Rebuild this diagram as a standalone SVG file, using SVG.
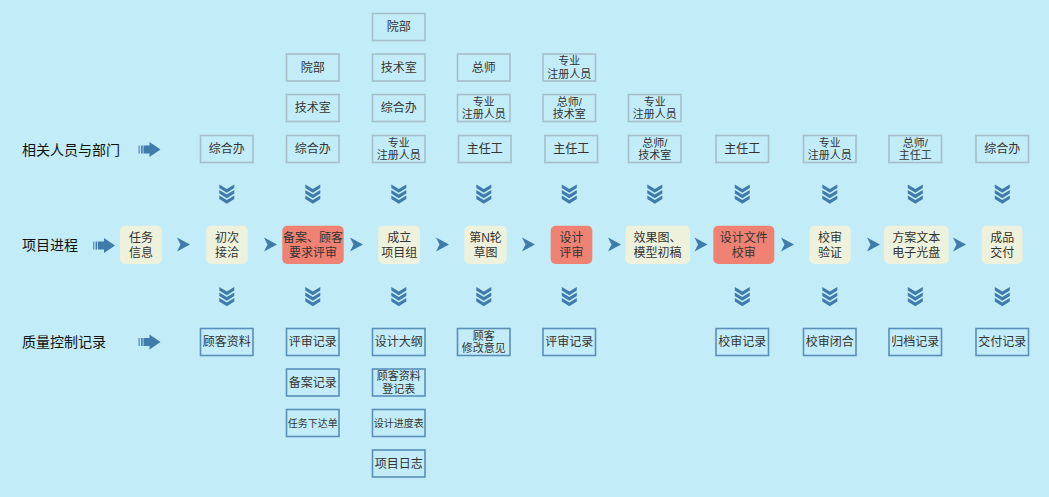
<svg xmlns="http://www.w3.org/2000/svg" width="1049" height="497" viewBox="0 0 1049 497">
<style>
text{font-family:"Liberation Sans","Noto Sans CJK SC",sans-serif;dominant-baseline:central;text-anchor:middle;fill:#333}
.lbl{font-size:14px;fill:#111;text-anchor:start}
.tb{fill:none;stroke:#a5bfca;stroke-width:1.6}
.bb{fill:none;stroke:#5a8fb8;stroke-width:1.6}
.pb{fill:#eef2dc}
.pr{fill:#ef8272}
.t12{font-size:12px}
.t11{font-size:11px}
.t10{font-size:10px}
.ar{fill:#3f7bab}
</style>
<defs>
<path id="chev" class="ar" d="M-7.5,0 L0,4.5 L7.5,0 L7.5,3.6 L0,8.2 L-7.5,3.6 Z M-7.5,5.5 L0,10 L7.5,5.5 L7.5,9.1 L0,13.7 L-7.5,9.1 Z M-7.5,11 L0,15.5 L7.5,11 L7.5,14.6 L0,19.2 L-7.5,14.6 Z"/>
<g id="fat" class="ar"><rect x="0" y="-4" width="1.4" height="8" opacity="0.75"/><rect x="2.6" y="-4" width="1.6" height="8"/><rect x="5" y="-4" width="6.5" height="8"/><polygon points="11,-7.5 22,0 11,7.5"/></g>
<polygon id="pa" class="ar" points="0,-7 13,0 0,7 3.5,0"/>
</defs>
<rect width="1049" height="497" fill="#c2ecf8"/>

<g id="labels">
<text class="lbl" x="22" y="150">相关人员与部门</text>
<text class="lbl" x="22" y="245">项目进程</text>
<text class="lbl" x="22" y="342">质量控制记录</text>
</g>

<g id="connectors">
<use href="#fat" x="138.5" y="149.5"/>
<use href="#fat" x="93" y="245.5"/>
<use href="#fat" x="138.5" y="342"/>
<use href="#pa" x="177" y="244.5"/>
<use href="#pa" x="264" y="244.5"/>
<use href="#pa" x="350" y="244.5"/>
<use href="#pa" x="436" y="244.5"/>
<use href="#pa" x="522" y="244.5"/>
<use href="#pa" x="608" y="244.5"/>
<use href="#pa" x="694.5" y="244.5"/>
<use href="#pa" x="781" y="244.5"/>
<use href="#pa" x="867" y="244.5"/>
<use href="#pa" x="953" y="244.5"/>
<use href="#chev" x="226.8" y="184.5"/>
<use href="#chev" x="312.8" y="184.5"/>
<use href="#chev" x="398.8" y="184.5"/>
<use href="#chev" x="483.8" y="184.5"/>
<use href="#chev" x="569.3" y="184.5"/>
<use href="#chev" x="654.8" y="184.5"/>
<use href="#chev" x="742.3" y="184.5"/>
<use href="#chev" x="829.8" y="184.5"/>
<use href="#chev" x="915.3" y="184.5"/>
<use href="#chev" x="1002.3" y="184.5"/>
<use href="#chev" x="226.8" y="287"/>
<use href="#chev" x="312.8" y="287"/>
<use href="#chev" x="398.8" y="287"/>
<use href="#chev" x="483.8" y="287"/>
<use href="#chev" x="569.3" y="287"/>
<use href="#chev" x="742.3" y="287"/>
<use href="#chev" x="829.8" y="287"/>
<use href="#chev" x="915.3" y="287"/>
<use href="#chev" x="1002.3" y="287"/>
</g>

<!-- people / departments -->
<g id="p2"><rect class="tb" x="200.5" y="135.5" width="52.5" height="27"/><text class="t12" x="226.8" y="149">综合办</text></g>
<g id="p3a"><rect class="tb" x="286.5" y="54" width="52.5" height="27"/><text class="t12" x="312.8" y="67.5">院部</text></g>
<g id="p3b"><rect class="tb" x="286.5" y="94.5" width="52.5" height="27"/><text class="t12" x="312.8" y="108">技术室</text></g>
<g id="p3c"><rect class="tb" x="286.5" y="135.5" width="52.5" height="27"/><text class="t12" x="312.8" y="149">综合办</text></g>
<g id="p4a"><rect class="tb" x="372.5" y="13.5" width="52.5" height="27"/><text class="t12" x="398.8" y="27">院部</text></g>
<g id="p4b"><rect class="tb" x="372.5" y="54" width="52.5" height="27"/><text class="t12" x="398.8" y="67.5">技术室</text></g>
<g id="p4c"><rect class="tb" x="372.5" y="94.5" width="52.5" height="27"/><text class="t12" x="398.8" y="108">综合办</text></g>
<g id="p4d"><rect class="tb" x="372.5" y="135.5" width="52.5" height="27"/><text class="t11" x="398.8" y="142.8">专业<tspan x="398.8" dy="12.5">注册人员</tspan></text></g>
<g id="p5a"><rect class="tb" x="457.5" y="54" width="52.5" height="27"/><text class="t12" x="483.8" y="67.5">总师</text></g>
<g id="p5b"><rect class="tb" x="457.5" y="94.5" width="52.5" height="27"/><text class="t11" x="483.8" y="101.8">专业<tspan x="483.8" dy="12.5">注册人员</tspan></text></g>
<g id="p5c"><rect class="tb" x="458.5" y="135.5" width="52.5" height="27"/><text class="t12" x="484.8" y="149">主任工</text></g>
<g id="p6a"><rect class="tb" x="543" y="54" width="52.5" height="27"/><text class="t11" x="569.3" y="61.3">专业<tspan x="569.3" dy="12.5">注册人员</tspan></text></g>
<g id="p6b"><rect class="tb" x="543" y="94.5" width="52.5" height="27"/><text class="t11" x="569.3" y="101.8">总师/<tspan x="569.3" dy="12.5">技术室</tspan></text></g>
<g id="p6c"><rect class="tb" x="545" y="135.5" width="52.5" height="27"/><text class="t12" x="571.3" y="149">主任工</text></g>
<g id="p7a"><rect class="tb" x="628.5" y="94.5" width="52.5" height="27"/><text class="t11" x="654.8" y="101.8">专业<tspan x="654.8" dy="12.5">注册人员</tspan></text></g>
<g id="p7b"><rect class="tb" x="628.5" y="135.5" width="52.5" height="27"/><text class="t11" x="654.8" y="142.8">总师/<tspan x="654.8" dy="12.5">技术室</tspan></text></g>
<g id="p8"><rect class="tb" x="716" y="135.5" width="52.5" height="27"/><text class="t12" x="742.3" y="149">主任工</text></g>
<g id="p9"><rect class="tb" x="803.5" y="135.5" width="52.5" height="27"/><text class="t11" x="829.8" y="142.8">专业<tspan x="829.8" dy="12.5">注册人员</tspan></text></g>
<g id="p10"><rect class="tb" x="889" y="135.5" width="52.5" height="27"/><text class="t11" x="915.3" y="142.8">总师/<tspan x="915.3" dy="12.5">主任工</tspan></text></g>
<g id="p11"><rect class="tb" x="976" y="135.5" width="52.5" height="27"/><text class="t12" x="1002.3" y="149">综合办</text></g>

<!-- process -->
<g id="s1"><rect class="pb" x="120" y="225.7" width="41.7" height="38.3" rx="5"/><text class="t12" x="140.9" y="238">任务<tspan x="140.9" dy="14.5">信息</tspan></text></g>
<g id="s2"><rect class="pb" x="206.3" y="225.7" width="41.4" height="38.3" rx="5"/><text class="t12" x="227" y="238">初次<tspan x="227" dy="14.5">接洽</tspan></text></g>
<g id="s3"><rect class="pr" x="282.3" y="225.7" width="61.4" height="38.3" rx="5"/><text class="t12" x="313" y="238">备案、顾客<tspan x="313" dy="14.5">要求评审</tspan></text></g>
<g id="s4"><rect class="pb" x="378.3" y="225.7" width="41.7" height="38.3" rx="5"/><text class="t12" x="399.2" y="238">成立<tspan x="399.2" dy="14.5">项目组</tspan></text></g>
<g id="s5"><rect class="pb" x="464.3" y="225.7" width="42.4" height="38.3" rx="5"/><text class="t12" x="485.5" y="238">第N轮<tspan x="485.5" dy="14.5">草图</tspan></text></g>
<g id="s6"><rect class="pr" x="550.7" y="225.7" width="41.6" height="38.3" rx="5"/><text class="t12" x="571.5" y="238">设计<tspan x="571.5" dy="14.5">评审</tspan></text></g>
<g id="s7"><rect class="pb" x="625.3" y="225.7" width="64.7" height="38.3" rx="5"/><text class="t12" x="657.6" y="238">效果图、<tspan x="657.6" dy="14.5">模型初稿</tspan></text></g>
<g id="s8"><rect class="pr" x="713.3" y="225.7" width="61" height="38.3" rx="5"/><text class="t12" x="743.8" y="238">设计文件<tspan x="743.8" dy="14.5">校审</tspan></text></g>
<g id="s9"><rect class="pb" x="809.3" y="225.7" width="41.4" height="38.3" rx="5"/><text class="t12" x="830" y="238">校审<tspan x="830" dy="14.5">验证</tspan></text></g>
<g id="s10"><rect class="pb" x="884" y="225.7" width="64.7" height="38.3" rx="5"/><text class="t12" x="916.3" y="238">方案文本<tspan x="916.3" dy="14.5">电子光盘</tspan></text></g>
<g id="s11"><rect class="pb" x="981.7" y="225.7" width="41" height="38.3" rx="5"/><text class="t12" x="1002.2" y="238">成品<tspan x="1002.2" dy="14.5">交付</tspan></text></g>

<!-- quality records -->
<g id="q2"><rect class="bb" x="200.5" y="328.5" width="52.5" height="27"/><text class="t12" x="226.8" y="342">顾客资料</text></g>
<g id="q3a"><rect class="bb" x="286.5" y="328.5" width="52.5" height="27"/><text class="t12" x="312.8" y="342">评审记录</text></g>
<g id="q3b"><rect class="bb" x="286.5" y="369" width="52.5" height="27"/><text class="t12" x="312.8" y="382.5">备案记录</text></g>
<g id="q3c"><rect class="bb" x="286.5" y="409.5" width="52.5" height="27"/><text class="t10" x="312.8" y="423">任务下达单</text></g>
<g id="q4a"><rect class="bb" x="372.5" y="328.5" width="52.5" height="27"/><text class="t12" x="398.8" y="342">设计大纲</text></g>
<g id="q4b"><rect class="bb" x="372.5" y="369" width="52.5" height="27"/><text class="t11" x="398.8" y="376.3">顾客资料<tspan x="398.8" dy="12.5">登记表</tspan></text></g>
<g id="q4c"><rect class="bb" x="372.5" y="409.5" width="52.5" height="27"/><text class="t10" x="398.8" y="423">设计进度表</text></g>
<g id="q4d"><rect class="bb" x="372.5" y="450" width="52.5" height="27"/><text class="t12" x="398.8" y="463.5">项目日志</text></g>
<g id="q5"><rect class="bb" x="457.5" y="328.5" width="52.5" height="27"/><text class="t11" x="483.8" y="335.8">顾客<tspan x="483.8" dy="12.5">修改意见</tspan></text></g>
<g id="q6"><rect class="bb" x="543" y="328.5" width="52.5" height="27"/><text class="t12" x="569.3" y="342">评审记录</text></g>
<g id="q8"><rect class="bb" x="716" y="328.5" width="52.5" height="27"/><text class="t12" x="742.3" y="342">校审记录</text></g>
<g id="q9"><rect class="bb" x="803.5" y="328.5" width="52.5" height="27"/><text class="t12" x="829.8" y="342">校审闭合</text></g>
<g id="q10"><rect class="bb" x="889" y="328.5" width="52.5" height="27"/><text class="t12" x="915.3" y="342">归档记录</text></g>
<g id="q11"><rect class="bb" x="976" y="328.5" width="52.5" height="27"/><text class="t12" x="1002.3" y="342">交付记录</text></g>
</svg>
